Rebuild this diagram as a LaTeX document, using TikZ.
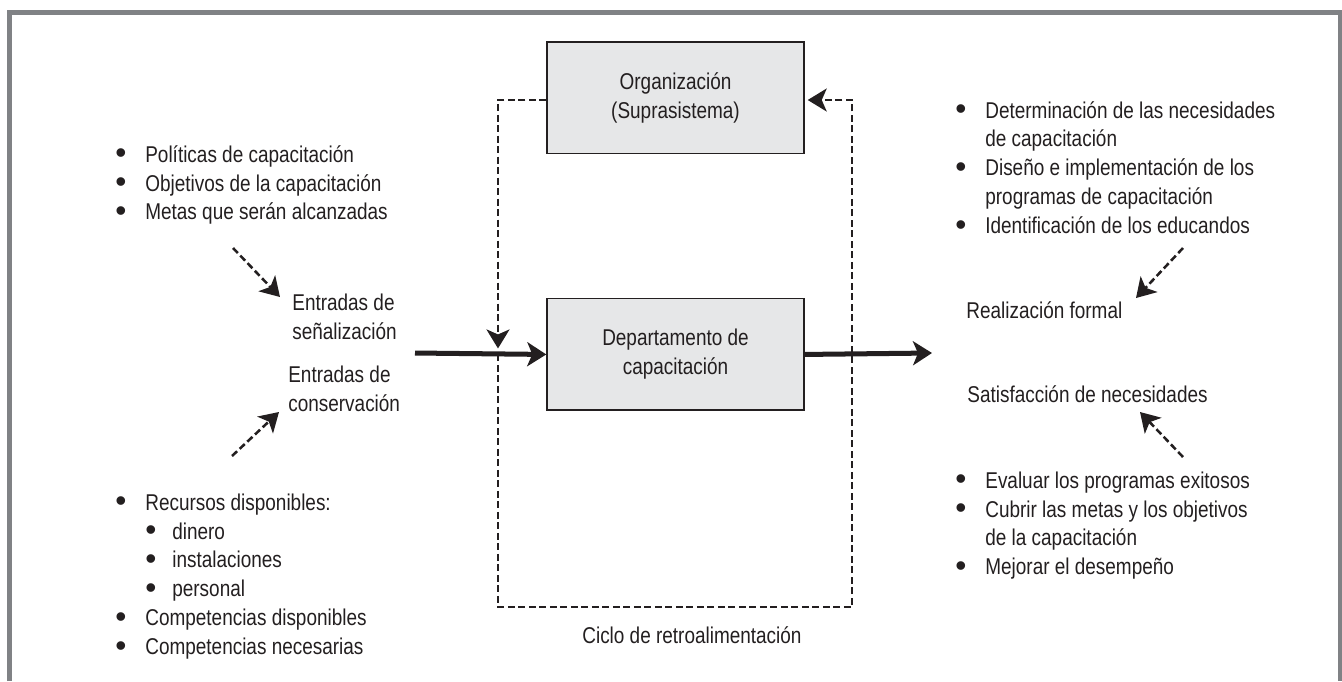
\documentclass[tikz,border=0pt]{standalone}
\usepackage{fontspec}
\setmainfont{Liberation Sans}[FakeStretch=0.83]
\newfontfamily\dotfont{Liberation Sans}
\usetikzlibrary{arrows.meta, positioning}
\usepackage{xcolor}
\definecolor{framegray}{RGB}{128,130,133}
\definecolor{boxfill}{RGB}{230,231,232}
\definecolor{ink}{RGB}{35,31,32}

\newcommand{\itm}[1][0.6cm]{\makebox[#1][l]{\raisebox{-0.9pt}{\dotfont\fontsize{18}{18}\selectfont\textbullet}}}
\newcommand{\txtlines}[1]{\begin{tabular}[t]{@{}l@{}}#1\end{tabular}}

\begin{document}
\begin{tikzpicture}[
    x=0.02cm, y=-0.02cm,
    font=\fontsize{13}{16.5}\selectfont,
    box/.style={rectangle, draw=ink, line width=0.85pt, fill=boxfill, minimum width=5.14cm, minimum height=2.23cm, align=center, text=ink},
    txt/.style={anchor=base west, inner sep=0pt, text=ink},
    flow/.style={-{Stealth[length=0.38cm, width=0.48cm, inset=0.1cm]}, line width=2.85pt, ink},
    fbline/.style={dash pattern=on 0.14cm off 0.07cm, line width=1.45pt, ink},
    hint/.style={fbline, -{Stealth[length=0.38cm, width=0.46cm, inset=0.1cm]}},
    frameline/.style={framegray, line width=2.85pt},
]
\useasboundingbox (0,0) rectangle (1342,681);

% Frame
\draw[frameline] (9.5,681) -- (9.5,12.5) -- (1340,12.5) -- (1340,681);

% Boxes
\node[box] (org) at (675.5,97.5) {Organización\\(Suprasistema)};
\node[box, below=2.88cm of org] (dept) {Departamento de\\capacitación};

% Inputs
\node[txt] (politicas) at (115,162) {\txtlines{%
    \itm Políticas de capacitación\\
    \itm Objetivos de la capacitación\\
    \itm Metas que serán alcanzadas}};
\node[txt] (senal) at (292,310) {\txtlines{Entradas de\\señalización}};
\node[txt] (conserv) at (288,382) {\txtlines{Entradas de\\conservación}};
\node[txt] (recursos) at (115,510) {\txtlines{%
    \itm Recursos disponibles:\\
    \hspace*{0.6cm}\itm[0.54cm]dinero\\
    \hspace*{0.6cm}\itm[0.54cm]instalaciones\\
    \hspace*{0.6cm}\itm[0.54cm]personal\\
    \itm Competencias disponibles\\
    \itm Competencias necesarias}};

% Outputs
\node[txt] (necesidades) at (955,118) {\txtlines{%
    \itm Determinación de las necesidades\\
    \hspace*{0.6cm}de capacitación\\
    \itm Diseño e implementación de los\\
    \hspace*{0.6cm}programas de capacitación\\
    \itm Identificación de los educandos}};
\node[txt] (realiz) at (966,318) {Realización formal};
\node[txt] (satisf) at (967,402) {Satisfacción de necesidades};
\node[txt] (evaluar) at (955,488) {\txtlines{%
    \itm Evaluar los programas exitosos\\
    \itm Cubrir las metas y los objetivos\\
    \hspace*{0.6cm}de la capacitación\\
    \itm Mejorar el desempeño}};

% Feedback label
\node[txt] (ciclo) at (582,643) {Ciclo de retroalimentación};

% Coordinates
\coordinate (in-start) at (415,353);
\coordinate (out-end) at (932,353);
\coordinate (fb-left) at (498,100);
\coordinate (fb-right) at (852,100);
\coordinate (fb-bottom) at (675,607);
\coordinate (sig-from) at (233,248);
\coordinate (sig-to) at (280,297);
\coordinate (cons-from) at (232,456);
\coordinate (cons-to) at (279,412);
\coordinate (real-from) at (1183,248);
\coordinate (real-to) at (1136,298);
\coordinate (sat-from) at (1183,457);
\coordinate (sat-to) at (1140,412);

% Main flow
\draw[flow] (in-start) -- (dept.west);
\draw[flow] (dept.east) -- (out-end);

% Feedback loop
\draw[hint, shorten >=0.12cm] (org.west |- fb-left) -- (fb-left) -- (fb-left |- dept);
\draw[hint, shorten >=0.06cm] (fb-left |- dept) -- (fb-left |- fb-bottom) -- (fb-right |- fb-bottom) -- (fb-right) -- (org.east |- fb-right);

% Hints
\draw[hint] (sig-from) -- (sig-to);
\draw[hint] (cons-from) -- (cons-to);
\draw[hint] (real-from) -- (real-to);
\draw[hint] (sat-from) -- (sat-to);

\end{tikzpicture}
\end{document}
